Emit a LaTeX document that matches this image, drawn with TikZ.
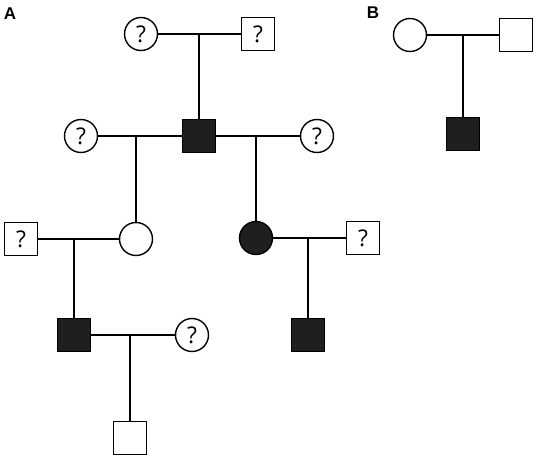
\documentclass[tikz,border=0pt]{standalone}
\usepackage{fontspec}
\setmainfont{Open Sans}
\newfontfamily\labfont{Liberation Sans}
\begin{document}
\begin{tikzpicture}[x=1pt,y=-1pt,line width=1.9pt,
  pm/.style={draw,rectangle,minimum size=33pt,inner sep=0pt,line width=1.4pt,font=\fontsize{23}{23}\selectfont},
  pf/.style={draw,circle,minimum size=33pt,inner sep=0pt,line width=1.4pt,font=\fontsize{23}{23}\selectfont},
  aff/.style={fill=black!88},
  lab/.style={font=\labfont\bfseries\fontsize{17}{17}\selectfont}]
\useasboundingbox (0,0) rectangle (536,458);
\node[lab] (A) at (10,14) {A};
\node[lab] (B) at (373,12.5) {B};
% Panel A
\node[pf] (g1) at (141,34) {?};
\node[pm] (g2) at (258,34) {?};
\node[pm,aff] (p) at (199,136) {};
\node[pf] (w1) at (81,136) {?};
\node[pf] (w2) at (317,136) {?};
\node[pf] (d1) at (136,239) {};
\node[pf,aff] (d2) at (256,238) {};
\node[pm] (h1) at (21,239) {?};
\node[pm] (h2) at (363,238) {?};
\node[pm,aff] (s1) at (74,335) {};
\node[pm,aff] (s2) at (308,335) {};
\node[pf] (w3) at (192,335) {?};
\node[pm] (gc) at (130,438) {};
% Panel B
\node[pf] (bm) at (410,35) {};
\node[pm] (bf) at (516,35) {};
\node[pm,aff] (bc) at (463,134) {};
% marriages
\draw (g1) -- (g2);
\draw (w1) -- (p);
\draw (p) -- (w2);
\draw (h1) -- (d1);
\draw (d2) -- (h2);
\draw (s1) -- (w3);
\draw (bm) -- (bf);
% descents
\draw (p.north) -- (p |- g1);
\draw (d1.north) -- (d1 |- p);
\draw (d2.north) -- (d2 |- p);
\draw (s1.north) -- (s1 |- h1);
\draw (s2.north) -- (s2 |- h2);
\draw (gc.north) -- (gc |- s1);
\draw (bc.north) -- (bc |- bm);
\end{tikzpicture}
\end{document}
